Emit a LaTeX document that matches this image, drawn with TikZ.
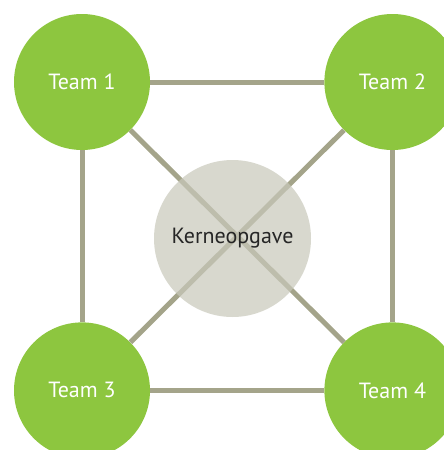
\documentclass[tikz,border=0pt]{standalone}
\usepackage{fontspec}
\setmainfont{PT Sans}
\usepackage{xcolor}
\usetikzlibrary{positioning}

\definecolor{teamgreen}{RGB}{141,198,63}
\definecolor{linkgray}{RGB}{164,164,138}
\definecolor{coregray}{RGB}{200,200,186}

\begin{document}
\begin{tikzpicture}[x=1pt, y=-1pt, node distance=174pt]
	\useasboundingbox (0,0) rectangle (444,450);
	\tikzset{team/.style={circle, fill=teamgreen, minimum size=136pt, inner sep=0pt, text=white, font=\fontsize{22}{26}\selectfont}}
	\tikzset{link/.style={draw=linkgray, line width=5pt}}

	\node[team] at (82,82) (t1) {Team 1};
	\node[team, right=of t1] (t2) {Team 2};
	\node[team, below=172pt of t1] (t3) {Team 3};
	\node[team, right=of t3] (t4) {Team 4};

	\draw[link] (t1) -- (t2);
	\draw[link] (t1) -- (t3);
	\draw[link] (t2) -- (t4);
	\draw[link] (t3) -- (t4);
	\draw[link] (t1) -- (t4);
	\draw[link] (t2) -- (t3);

	\node[circle, fill=coregray, fill opacity=0.71, text opacity=1, text=black!85, minimum size=157pt, inner sep=0pt, font=\fontsize{22}{26}\selectfont] at (232.5,238.5) (core) {Kerneopgave};
\end{tikzpicture}
\end{document}
